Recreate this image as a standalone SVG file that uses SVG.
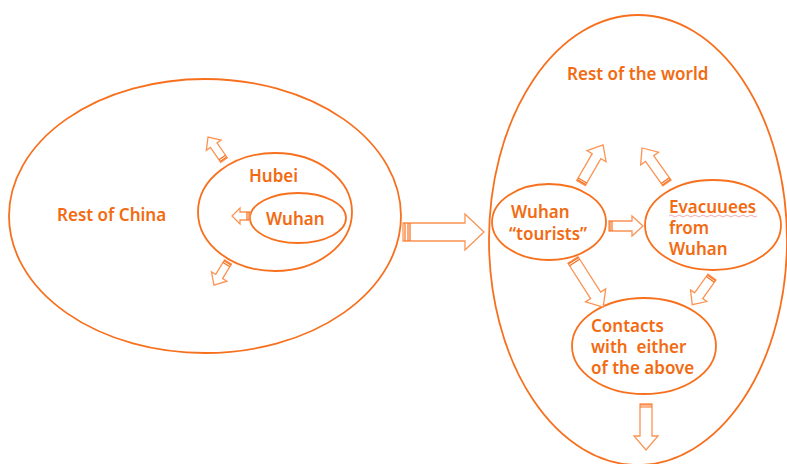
<svg xmlns="http://www.w3.org/2000/svg" width="787" height="464" viewBox="0 0 787 464">
<style>
.ell{fill:none;stroke:#f7701e;stroke-width:1.8}
.t{font-family:"Noto Sans","Open Sans",sans-serif;font-size:17px;font-weight:600;fill:#f26b12;white-space:pre}
.ar{fill:#fff;stroke:#fb9353;stroke-width:1.3;stroke-linejoin:miter}
.st{stroke:#f7701e;stroke-width:1.2}
</style>
<rect width="787" height="464" fill="#fff"/>
<g id="rest-of-china"><ellipse class="ell" cx="205" cy="216" rx="196" ry="137"/><text class="t" x="57" y="221">Rest of China</text></g>
<g id="hubei"><ellipse class="ell" cx="275" cy="212" rx="77" ry="59"/><text class="t" x="249" y="182">Hubei</text></g>
<g id="wuhan"><ellipse class="ell" cx="298" cy="218" rx="48" ry="25"/><text class="t" x="266" y="225">Wuhan</text></g>
<g id="rest-of-world"><ellipse class="ell" cx="638" cy="240" rx="149" ry="225"/><text class="t" x="567" y="80">Rest of the world</text></g>
<g id="wuhan-tourists"><ellipse class="ell" cx="549" cy="222" rx="57" ry="38"/><text class="t" x="511" y="218">Wuhan</text><text class="t" x="509" y="240">“tourists”</text></g>
<g id="evacuees"><ellipse class="ell" cx="713" cy="225" rx="68" ry="45"/><text class="t" x="669" y="213">Evacuuees</text><text class="t" x="669" y="234">from</text><text class="t" x="669" y="255">Wuhan</text><path d="M669,216 q2,-2 4,0 t4,0 t4,0 t4,0 t4,0 t4,0 t4,0 t4,0 t4,0 t4,0 t4,0 t4,0 t4,0 t4,0 t4,0 t4,0 t4,0 t4,0 t4,0 t4,0 t4,0 t4,0" fill="none" stroke="#f0a0a8" stroke-width="0.9"/></g>
<g id="contacts"><ellipse class="ell" cx="644" cy="346" rx="72" ry="48"/><text class="t" x="591" y="332">Contacts</text><text class="t" x="591" y="353">with  either</text><text class="t" x="591" y="374">of the above</text></g>
<g id="connectors">
<g transform="translate(403,232)"><path class="ar" d="M0,-9 L62,-9 L62,-18 L81,0 L62,18 L62,9 L0,9 Z"/><path class="st" d="M2,-9V9M5,-9V9M7,-9V9"/></g>
<g transform="translate(224,160) rotate(-124.8)"><path class="ar" d="M0,-4 L18,-4 L18,-9 L28,0 L18,9 L18,4 L0,4 Z"/><path class="st" d="M1,-4V4M3,-4V4"/></g>
<g transform="translate(250,216) rotate(180)"><path class="ar" d="M0,-4 L10,-4 L10,-8 L18,0 L10,8 L10,4 L0,4 Z"/><path class="st" d="M1,-4V4M3,-4V4"/></g>
<g transform="translate(228,262) rotate(121.3)"><path class="ar" d="M0,-4 L17,-4 L17,-9 L27,0 L17,9 L17,4 L0,4 Z"/><path class="st" d="M1,-4V4M3,-4V4"/></g>
<g transform="translate(581,183) rotate(-59.9)"><path class="ar" d="M0,-5 L31,-5 L31,-11 L44,0 L31,11 L31,5 L0,5 Z"/><path class="st" d="M1,-5V5M3,-5V5"/></g>
<g transform="translate(667,183) rotate(-125.5)"><path class="ar" d="M0,-5 L30,-5 L30,-11 L43,0 L30,11 L30,5 L0,5 Z"/><path class="st" d="M1,-5V5M3,-5V5"/></g>
<g transform="translate(609,226)"><path class="ar" d="M0,-5 L23,-5 L23,-10 L34,0 L23,10 L23,5 L0,5 Z"/><path class="st" d="M1,-5V5M3,-5V5"/></g>
<g transform="translate(573,260) rotate(57.4)"><path class="ar" d="M0,-6 L42,-6 L42,-12 L56,0 L42,12 L42,6 L0,6 Z"/><path class="st" d="M1,-6V6M3,-6V6"/></g>
<g transform="translate(712,277) rotate(125.5)"><path class="ar" d="M0,-5 L23,-5 L23,-10 L34,0 L23,10 L23,5 L0,5 Z"/><path class="st" d="M1,-5V5M3,-5V5"/></g>
<g transform="translate(646,404) rotate(90)"><path class="ar" d="M0,-6 L32,-6 L32,-12 L46,0 L32,12 L32,6 L0,6 Z"/><path class="st" d="M1,-6V6M3,-6V6"/></g>
</g>
</svg>
